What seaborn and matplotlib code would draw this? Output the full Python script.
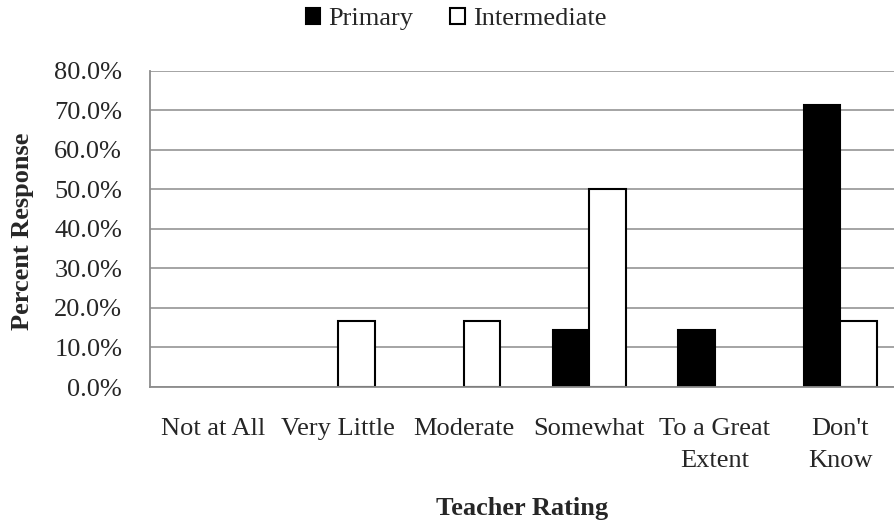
import pandas as pd
import matplotlib.pyplot as plt
import seaborn as sns

# Teacher rating survey data (percent response)
categories = ['Not at All', 'Very Little', 'Moderate', 'Somewhat',
              'To a Great\nExtent', "Don't\nKnow"]
primary = [0.0, 0.0, 0.0, 14.3, 14.3, 71.4]
intermediate = [0.0, 16.7, 16.7, 50.0, 0.0, 16.7]

df = pd.DataFrame({
    'Teacher Rating': categories * 2,
    'Percent': primary + intermediate,
    'Level': ['Primary'] * len(categories) + ['Intermediate'] * len(categories),
})

sns.set_style('white')
plt.rcParams['font.family'] = ['Liberation Serif', 'DejaVu Serif']
fs = 19

fig = plt.figure(figsize=(8.94, 5.23), dpi=100)
# plot area runs slightly past the right edge of the picture, as in the original
ax = fig.add_axes([150 / 894, 1 - 387 / 523, 753 / 894, (387 - 70.5) / 523])

sns.barplot(data=df, x='Teacher Rating', y='Percent', hue='Level',
            palette={'Primary': 'black', 'Intermediate': 'white'},
            edgecolor='black', linewidth=1.5, width=0.58, gap=0,
            ax=ax, legend=True)

# hide outlines of zero-height bars
for p in ax.patches:
    if p.get_height() == 0:
        p.set_linewidth(0)

ax.set_ylim(0, 80)
ax.set_yticks(range(0, 81, 10))
ax.set_yticklabels([f'{v:.1f}%' for v in range(0, 81, 10)])
ax.set_xlim(-0.5, len(categories) - 0.5)
ax.grid(axis='y', color='#8c8c8c', linewidth=1.1)
ax.set_axisbelow(True)

for s in ['top', 'right']:
    ax.spines[s].set_visible(False)
for s in ['left', 'bottom']:
    ax.spines[s].set_color('#8c8c8c')
    ax.spines[s].set_linewidth(1.3)

ax.tick_params(axis='y', length=0, pad=20, labelsize=fs)
ax.tick_params(axis='x', length=0, pad=22, labelsize=fs)
for t in ax.get_xticklabels():
    t.set_linespacing(1.6)

ax.set_xlabel('')
ax.set_ylabel('')
fig.text(23 / 894, 1 - 231 / 523, 'Percent Response', rotation=90,
         ha='center', va='center', fontsize=fs, fontweight='bold')
fig.text(522 / 894, 1 - 509 / 523, 'Teacher Rating',
         ha='center', va='center', fontsize=fs, fontweight='bold')

handles, labels = ax.get_legend_handles_labels()
leg = ax.legend(handles, labels, loc='center', bbox_to_anchor=(456 / 894, 1 - 19 / 523),
                bbox_transform=fig.transFigure, ncol=2, frameon=False, fontsize=fs,
                handlelength=0.55, handleheight=0.55, handletextpad=0.3,
                columnspacing=1.4)
for h in leg.legend_handles:
    h.set_edgecolor('black')
    h.set_linewidth(1.5)

fig.savefig('out.png', dpi=100)
